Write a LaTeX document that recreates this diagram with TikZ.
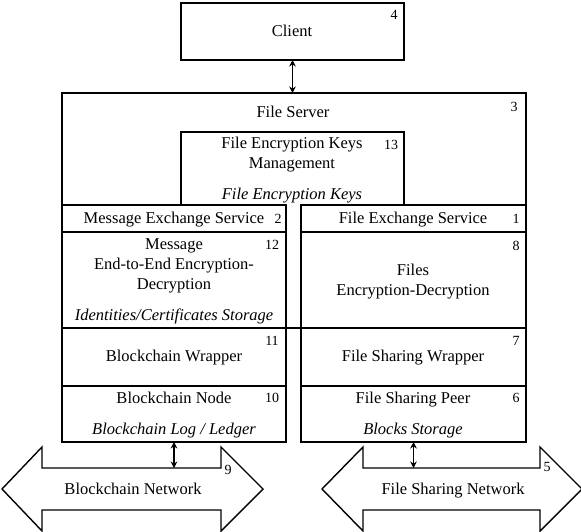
\documentclass[tikz,border=0pt]{standalone}
\usepackage{fontspec}
\setmainfont{Liberation Serif}
\usetikzlibrary{arrows.meta}
\begin{document}
\begin{tikzpicture}[x=1pt,y=-1pt,
 box/.style={draw, line width=1.4pt, outer sep=0pt, inner sep=0pt},
 frame/.style={inner sep=0pt, outer sep=0pt},
 edge/.style={line width=1.4pt},
 txt/.style={font=\fontsize{16.5}{20}\selectfont, align=center, inner sep=0pt},
 itxt/.style={font=\fontsize{16.5}{20}\selectfont\itshape, align=center, inner sep=0pt},
 one/.style={text height=11.5pt, text depth=3.5pt},
 num/.style={font=\fontsize{14}{15}\selectfont, inner sep=0pt},
 link/.style={line width=1.4pt, {Stealth[length=6.5pt,width=6.5pt]}-{Stealth[length=6.5pt,width=6.5pt]}},
 net/.style={draw, line width=1.4pt, line join=miter}
]
\useasboundingbox (0,0) rectangle (581,531);
\clip (0,0) rectangle (581,531);

% Client
\node[box, minimum width=223pt, minimum height=57pt] (client) at (292.5,31.5) {};
\node[txt, one] (clientt) at (292,32) {Client};
\node[num] (n4) at (394,15) {4};

% File server frame (open bottom)
\node[frame, minimum width=464pt, minimum height=112pt] (server) at (294,149) {};
\draw[edge] (server.south west) -- (server.north west) -- (server.north east) -- (server.south east);
\node[txt, one] (servert) at (293,113.5) {File Server};
\node[num] (n3) at (514,107) {3};

% Keys management
\node[frame, minimum width=223pt, minimum height=73pt] (keys) at (292.5,168.5) {};
\draw[edge] (keys.south west) -- (keys.north west) -- (keys.north east) -- (keys.south east);
\node[txt] (keyst) at (292,154.5) {File Encryption Keys\\Management};
\node[itxt, one] (keysi) at (292,195) {File Encryption Keys};
\node[num] (n13) at (391,145) {13};

% Left column
\node[box, minimum width=224pt, minimum height=27pt] (mes) at (174,218.5) {};
\node[box, minimum width=224pt, minimum height=96pt] (e2e) at (174,280) {};
\node[box, minimum width=224pt, minimum height=58pt] (bw) at (174,357) {};
\node[box, minimum width=224pt, minimum height=56pt] (bn) at (174,414) {};

% Right column
\node[box, minimum width=225pt, minimum height=27pt] (fes) at (413.5,218.5) {};
\node[box, minimum width=225pt, minimum height=96pt] (files) at (413.5,280) {};
\node[box, minimum width=225pt, minimum height=58pt] (fsw) at (413.5,357) {};
\node[box, minimum width=225pt, minimum height=56pt] (fsp) at (413.5,414) {};

\draw[edge] (e2e.south east) -- (files.south west);

% Left texts
\node[txt, one] (mest) at (174,219.5) {Message Exchange Service};
\node[num] (n2) at (278,219) {2};
\node[txt] (e2et) at (174,266) {Message\\End-to-End Encryption-\\Decryption};
\node[itxt, one] (e2ei) at (174,316) {Identities/Certificates Storage};
\node[num] (n12) at (272,245) {12};
\node[txt, one] (bwt) at (174,357.5) {Blockchain Wrapper};
\node[num] (n11) at (272,341) {11};
\node[txt, one] (bnt) at (174,399.5) {Blockchain Node};
\node[itxt, one] (bni) at (174,430) {Blockchain Log / Ledger};
\node[num] (n10) at (272,398) {10};

% Right texts
\node[txt, one] (fest) at (413,219.5) {File Exchange Service};
\node[num] (n1) at (516,219) {1};
\node[txt] (filest) at (413,281.5) {Files\\Encryption-Decryption};
\node[num] (n8) at (516,246) {8};
\node[txt, one] (fswt) at (413,357.5) {File Sharing Wrapper};
\node[num] (n7) at (516,341) {7};
\node[txt, one] (fspt) at (413,399.5) {File Sharing Peer};
\node[itxt, one] (fspi) at (413,430) {Blocks Storage};
\node[num] (n6) at (516,398) {6};

% Networks
\draw[net] (2,489) -- (42,447) -- (42,468) -- (221,468) -- (221,447) -- (263,489)
  -- (221,531) -- (221,510) -- (42,510) -- (42,531) -- cycle;
\node[txt, one] (bcnet) at (133,490) {Blockchain Network};
\node[num] (n9) at (228,470) {9};
\coordinate (bcin) at (174,468);

\draw[net] (322,489) -- (363,447) -- (363,468) -- (540,468) -- (540,447) -- (582,489)
  -- (540,531) -- (540,510) -- (363,510) -- (363,531) -- cycle;
\node[txt, one] (fsnet) at (453,490) {File Sharing Network};
\node[num] (n5) at (547,467) {5};
\coordinate (fsin) at (413.5,468);

% Connectors
\draw[link] (client.south) -- (client.south |- server.north);
\draw[link] (bn.south) -- (bcin);
\draw[link] (fsp.south) -- (fsin);
\end{tikzpicture}
\end{document}
